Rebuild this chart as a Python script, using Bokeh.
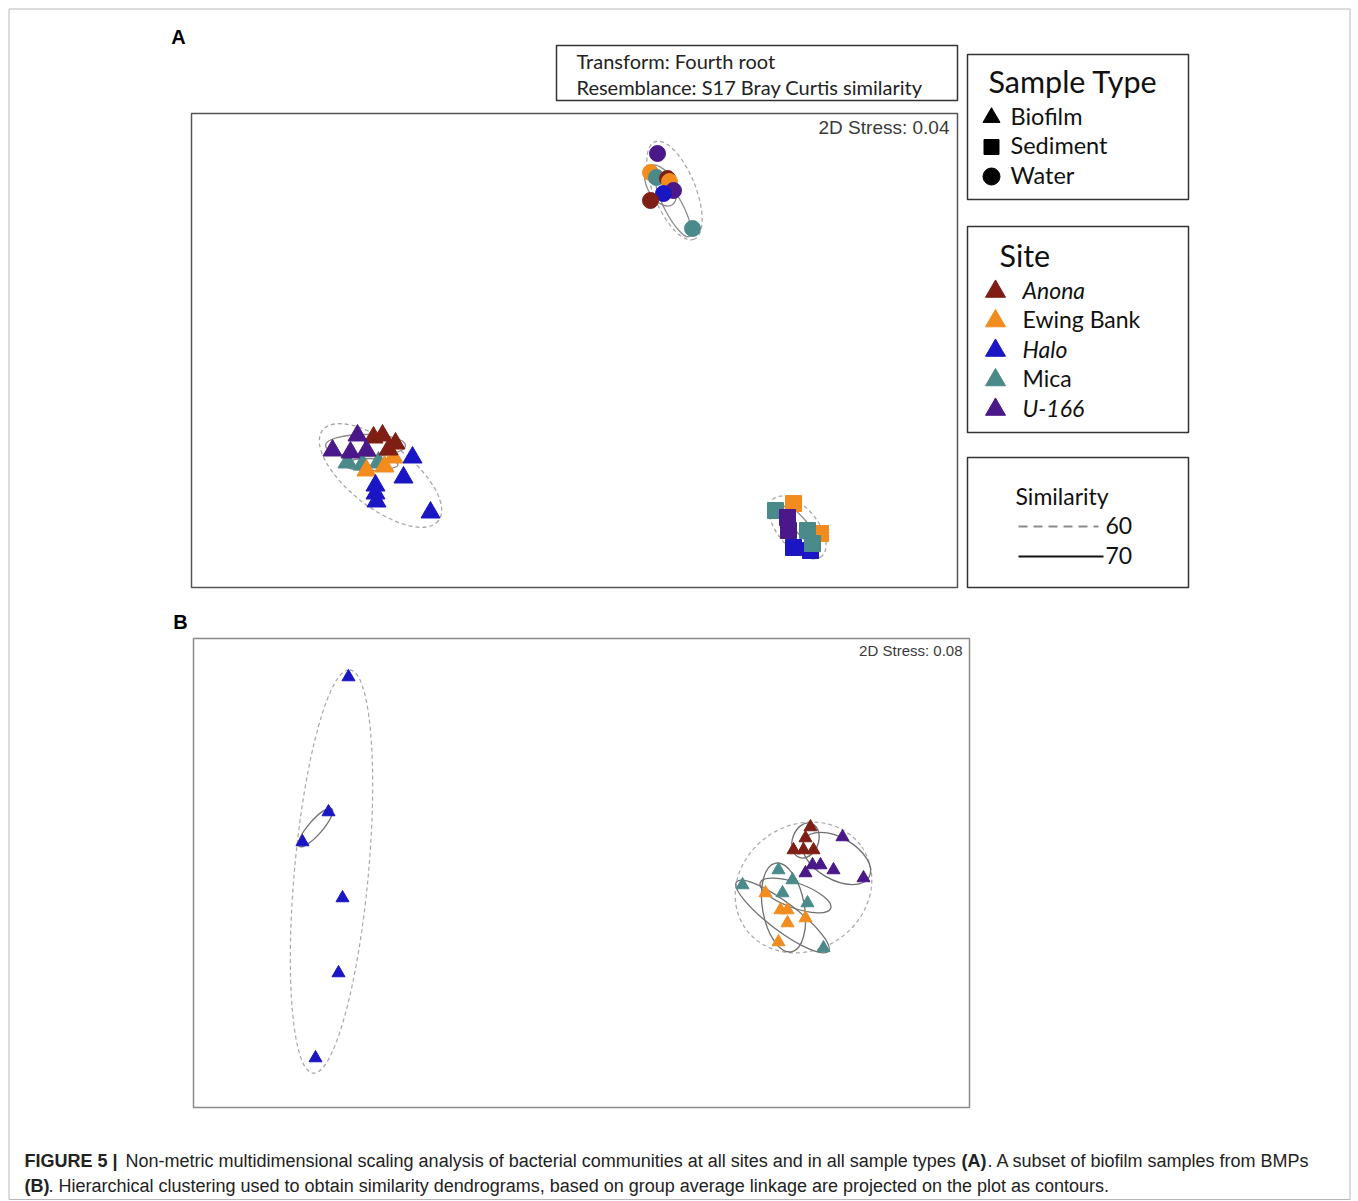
from bokeh.plotting import figure
from bokeh.models import Range1d
from bokeh.embed import file_html
from bokeh.resources import INLINE
from bokeh.core.properties import value

# ---------------- data ----------------
sites = ["Anona", "Ewing Bank", "Halo", "Mica", "U-166"]
site_colors = ["#7e1e14", "#f28c1e", "#1a16c4", "#4b8a8a", "#4a1888"]
site_italic = [True, False, True, False, True]
sample_types = ["Biofilm", "Sediment", "Water"]
type_markers = ["triangle", "square", "circle"]
sim_levels = ["60", "70"]

# Panel A: NMDS of all sample types (2D stress 0.04)
a_stress = "2D Stress: 0.04"
a_xlim = (-3.83, 3.83)
a_ylim = (-2.37, 2.37)

a_bio_site = ["Mica", "Mica", "Mica", "Ewing Bank", "Ewing Bank", "Ewing Bank",
              "Anona", "Anona", "Anona", "Anona",
              "U-166", "U-166", "U-166", "U-166",
              "Halo", "Halo", "Halo", "Halo", "Halo", "Halo"]
a_bio_x = [-2.27, -2.12, -1.96, -2.08, -1.90, -1.81,
           -2.01, -1.92, -1.79, -1.86,
           -2.42, -2.17, -2.24, -2.08,
           -1.62, -1.71, -1.99, -1.99, -1.98, -1.44]
a_bio_y = [-1.12, -1.14, -1.12, -1.20, -1.16, -1.07,
           -0.87, -0.85, -0.93, -0.99,
           -1.00, -0.85, -1.02, -1.00,
           -1.07, -1.27, -1.35, -1.43, -1.51, -1.62]

a_sed_site = ["Mica", "Ewing Bank", "Ewing Bank", "U-166", "U-166",
              "Halo", "Halo", "Mica", "Mica"]
a_sed_x = [2.01, 2.19, 2.46, 2.13, 2.14, 2.19, 2.36, 2.33, 2.38]
a_sed_y = [-1.60, -1.53, -1.83, -1.67, -1.80, -1.97, -2.00, -1.80, -1.93]

a_wat_site = ["Ewing Bank", "Mica", "Anona", "Ewing Bank", "Mica",
              "U-166", "Halo", "Anona", "U-166"]
a_wat_x = [0.76, 0.82, 0.93, 0.95, 1.18, 0.99, 0.89, 0.76, 0.83]
a_wat_y = [1.78, 1.73, 1.72, 1.69, 1.22, 1.60, 1.57, 1.50, 1.97]

# similarity contours (ellipse approximations): centre, width, height, angle (deg)
a_c60_x = [1.00, -1.94, 2.23]
a_c60_y = [1.60, -1.25, -1.77]
a_c60_w = [1.05, 1.47, 0.75]
a_c60_h = [0.42, 0.64, 0.40]
a_c60_a = [-68, -38, -50]

a_c70_x = [0.99, 0.86, -2.09, -2.04, 2.26]
a_c70_y = [1.44, 1.65, -0.95, -1.14, -1.75]
a_c70_w = [0.68, 0.45, 0.80, 0.55, 0.50]
a_c70_h = [0.18, 0.26, 0.22, 0.12, 0.14]
a_c70_a = [-62, -60, 0, 0, -50]

# Panel B: biofilm samples from BMPs (2D stress 0.08)
b_stress = "2D Stress: 0.08"
b_xlim = (-3.88, 3.88)
b_ylim = (-2.345, 2.345)

b_site = (["Halo"] * 6 + ["Anona"] * 5 + ["U-166"] * 6 + ["Mica"] * 6 + ["Ewing Bank"] * 6)
b_x = [-2.33, -2.53, -2.79, -2.39, -2.43, -2.66,
       2.29, 2.24, 2.12, 2.22, 2.32,
       2.61, 2.24, 2.31, 2.39, 2.52, 2.82,
       1.97, 2.11, 1.61, 2.01, 2.26, 2.42,
       1.84, 1.99, 2.06, 2.24, 2.06, 1.97]
b_y = [1.96, 0.61, 0.31, -0.25, -1.00, -1.85,
       0.46, 0.35, 0.23, 0.23, 0.23,
       0.36, 0.00, 0.08, 0.08, 0.03, -0.05,
       0.03, -0.07, -0.12, -0.20, -0.30, -0.75,
       -0.20, -0.37, -0.37, -0.45, -0.50, -0.69]

b_c60_x = [-2.50, 2.22]
b_c60_y = [0.015, -0.145]
b_c60_w = [4.05, 1.42]
b_c60_h = [0.74, 1.25]
b_c60_a = [84.8, 35]

b_c70_x = [-2.66, 2.24, 2.55, 2.01, 2.02, 2.14]
b_c70_y = [0.455, 0.325, 0.145, -0.435, -0.345, -0.225]
b_c70_w = [0.50, 0.36, 0.75, 1.15, 0.90, 0.75]
b_c70_h = [0.14, 0.26, 0.42, 0.28, 0.42, 0.25]
b_c70_a = [49, 70, -30, -37, -80, -20]

caption1 = [("FIGURE 5 |", "bold"),
            ("Non-metric multidimensional scaling analysis of bacterial communities at all sites and in all sample types", "normal"),
            ("(A)", "bold"), (". A subset of biofilm samples from BMPs", "normal")]
caption2 = [("(B)", "bold"),
            (". Hierarchical clustering used to obtain similarity dendrograms, based on group average linkage are projected on the plot as contours.", "normal")]

# ---------------- layout (page pixels) ----------------
W, H = 1352, 1200
PX0, PX1, PY0, PY1 = 0, W, 0, H
boxA = (191, 113, 957, 587)
boxB = (193, 638, 969, 1107)

col = dict(zip(sites, site_colors))

p = figure(width=W, height=H,
           x_range=Range1d(PX0, PX1), y_range=Range1d(PY1, PY0),
           output_backend="svg", toolbar_location=None, min_border=0,
           x_axis_type=None, y_axis_type=None)
p.grid.visible = False
p.outline_line_color = None
p.background_fill_color = "white"
p.border_fill_color = "white"


def panel_ranges(box, xlim, ylim):
    L, T, R, B = box
    sx = (R - L) / (xlim[1] - xlim[0])
    sy = (B - T) / (ylim[1] - ylim[0])
    xr = Range1d(xlim[0] - (L - PX0) / sx, xlim[1] + (PX1 - R) / sx)
    yr = Range1d(ylim[0] - (PY1 - B) / sy, ylim[1] + (T - PY0) / sy)
    return xr, yr


axr, ayr = panel_ranges(boxA, a_xlim, a_ylim)
bxr, byr = panel_ranges(boxB, b_xlim, b_ylim)
p.extra_x_ranges = {"ax": axr, "bx": bxr}
p.extra_y_ranges = {"ay": ayr, "by": byr}


def txt(x, y, s, size, font="Lato", style="normal", color="#111111", align="left", baseline="middle"):
    p.text(x=[x], y=[y], text=[s], text_font=value(font), text_font_size=f"{size}px",
           text_font_style=style, text_color=color, text_align=align, text_baseline=baseline)


def box(L, T, R, B, color="#222222", width=1.5):
    p.quad(left=[L], right=[R], top=[T], bottom=[B], fill_color=None,
           line_color=color, line_width=width)


# outer figure frame
box(8.5, 8.5, 1349.5, 1199, color="#b8b8b8", width=1)

# panel frames
box(*boxA, color="#555555", width=1.5)
box(*boxB, color="#8a8a8a", width=1.5)

txt(178, 36, "A", 20, font="Liberation Sans", style="bold", color="#000", align="center")
txt(180, 621, "B", 20, font="Liberation Sans", style="bold", color="#000", align="center")

# Transform box
box(556, 45, 957, 100, color="#333333", width=1.5)
txt(576, 60, "Transform: Fourth root", 20, color="#222")
txt(576, 86, "Resemblance: S17 Bray Curtis similarity", 20, color="#222")

txt(949, 127, a_stress, 19, font="Liberation Sans", color="#3a3a3a", align="right")
txt(962, 650, b_stress, 15, font="Liberation Sans", color="#3a3a3a", align="right")

# Sample Type legend
box(967, 54, 1188, 199, color="#333333", width=1.5)
txt(988, 80, "Sample Type", 30.5)
for i, (t, m) in enumerate(zip(sample_types, type_markers)):
    yy = 117 + 29.5 * i
    p.scatter(x=[991], y=[yy], marker=m, size=17 if m != "square" else 15,
              fill_color="black", line_color="black")
    txt(1010, yy - 2, t, 23.5)

# Site legend
box(967, 226, 1188, 432, color="#333333", width=1.5)
txt(999, 254, "Site", 30.5)
for i, (s, c, it) in enumerate(zip(sites, site_colors, site_italic)):
    yy = 291 + 29.5 * i
    p.scatter(x=[995], y=[yy], marker="triangle", size=20, fill_color=c, line_color=c)
    txt(1022, yy - 2, s, 23, style="italic" if it else "normal")

# Similarity legend
box(967, 457, 1188, 587, color="#333333", width=1.5)
txt(1015, 495, "Similarity", 23)
p.segment(x0=[1018], y0=[526], x1=[1098], y1=[526], line_color="#8c8c8c", line_width=2, line_dash="9 6")
p.segment(x0=[1018], y0=[556], x1=[1103], y1=[556], line_color="#111111", line_width=2)
txt(1105, 525, sim_levels[0], 23)
txt(1105, 555, sim_levels[1], 23)

# ---------- Panel A ----------
kwA = dict(x_range_name="ax", y_range_name="ay")
p.ellipse(x=a_c60_x, y=a_c60_y, width=a_c60_w, height=a_c60_h, angle=a_c60_a, angle_units="deg",
          fill_color=None, line_color="#a8a8a8", line_width=1.3, line_dash="4 3", **kwA)
p.ellipse(x=a_c70_x, y=a_c70_y, width=a_c70_w, height=a_c70_h, angle=a_c70_a, angle_units="deg",
          fill_color=None, line_color="#8a8a8a", line_width=1.3, **kwA)

p.scatter(x=a_bio_x, y=a_bio_y, marker="triangle", size=19,
          fill_color=[col[s] for s in a_bio_site], line_color=[col[s] for s in a_bio_site], **kwA)
p.scatter(x=a_sed_x, y=a_sed_y, marker="square", size=16,
          fill_color=[col[s] for s in a_sed_site], line_color=[col[s] for s in a_sed_site], **kwA)
p.scatter(x=a_wat_x, y=a_wat_y, marker="circle", size=16,
          fill_color=[col[s] for s in a_wat_site], line_color=[col[s] for s in a_wat_site], **kwA)

# ---------- Panel B ----------
kwB = dict(x_range_name="bx", y_range_name="by")
p.ellipse(x=b_c60_x, y=b_c60_y, width=b_c60_w, height=b_c60_h, angle=b_c60_a, angle_units="deg",
          fill_color=None, line_color="#a8a8a8", line_width=1.2, line_dash="4 3", **kwB)
p.ellipse(x=b_c70_x, y=b_c70_y, width=b_c70_w, height=b_c70_h, angle=b_c70_a, angle_units="deg",
          fill_color=None, line_color="#707070", line_width=1.3, **kwB)
p.scatter(x=b_x, y=b_y, marker="triangle", size=13,
          fill_color=[col[s] for s in b_site], line_color=[col[s] for s in b_site], **kwB)

# ---------- caption ----------
cap_x1 = [24, 125, 961, 987]
for (s, st), x in zip(caption1, cap_x1):
    txt(x, 1160, s, 18, font="Liberation Sans", style=st, color="#222")
cap_x2 = [24, 48]
for (s, st), x in zip(caption2, cap_x2):
    txt(x, 1185, s, 18, font="Liberation Sans", style=st, color="#222")

open("out.html", "w").write(file_html(p, INLINE))
